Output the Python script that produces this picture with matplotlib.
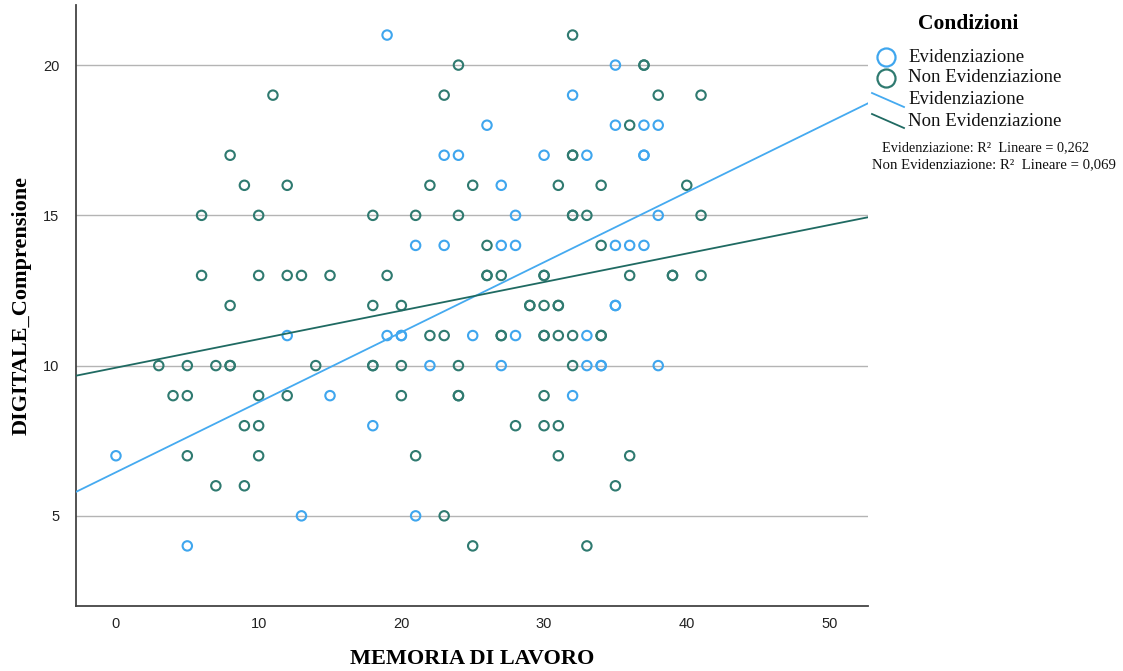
import matplotlib
matplotlib.use("Agg")
import matplotlib.pyplot as plt
from matplotlib.lines import Line2D
import numpy as np

# MEMORIA DI LAVORO (x) vs DIGITALE_Comprensione (y), per condition
evid_x = [19, 35, 32, 26, 35, 37, 38, 23, 24, 30, 33, 37, 37, 27, 28, 38,
          21, 23, 27, 28, 35, 36, 37, 35, 35, 12, 19, 20, 20, 25, 28, 33,
          22, 27, 33, 34, 34, 38, 15, 32, 18, 0, 13, 21, 5]
evid_y = [21, 20, 19, 18, 18, 18, 18, 17, 17, 17, 17, 17, 17, 16, 15, 15,
          14, 14, 14, 14, 14, 14, 14, 12, 12, 11, 11, 11, 11, 11, 11, 11,
          10, 10, 10, 10, 10, 10, 9, 9, 8, 7, 5, 5, 4]

nonev_x = [32, 24, 37, 37, 11, 23, 38, 41, 36, 8, 32, 32,
           9, 12, 22, 25, 31, 34, 40,
           6, 10, 18, 21, 24, 32, 32, 33, 41,
           26, 34,
           6, 10, 12, 13, 15, 19, 26, 26, 27, 30, 30, 36, 39, 39, 41,
           8, 18, 20, 29, 29, 30, 31, 31,
           22, 23, 27, 27, 30, 30, 31, 32, 34, 34,
           3, 5, 7, 8, 8, 14, 18, 18, 20, 24, 32,
           4, 5, 10, 12, 20, 24, 24, 30,
           9, 10, 28, 30, 31,
           5, 10, 21, 31, 36,
           7, 9, 35,
           23,
           25, 33]
nonev_y = [21, 20, 20, 20, 19, 19, 19, 19, 18, 17, 17, 17,
           16, 16, 16, 16, 16, 16, 16,
           15, 15, 15, 15, 15, 15, 15, 15, 15,
           14, 14,
           13, 13, 13, 13, 13, 13, 13, 13, 13, 13, 13, 13, 13, 13, 13,
           12, 12, 12, 12, 12, 12, 12, 12,
           11, 11, 11, 11, 11, 11, 11, 11, 11, 11,
           10, 10, 10, 10, 10, 10, 10, 10, 10, 10, 10,
           9, 9, 9, 9, 9, 9, 9, 9,
           8, 8, 8, 8, 8,
           7, 7, 7, 7, 7,
           6, 6, 6,
           5,
           4, 4]

# Linear fit lines (intercept, slope) and their R² values
evid_fit = (6.45, 0.233)
nonev_fit = (9.93, 0.095)
r2_labels = ["Evidenziazione: R\u00b2  Lineare = 0,262",
             "Non Evidenziazione: R\u00b2  Lineare = 0,069"]

x_ticks = [0, 10, 20, 30, 40, 50]
y_ticks = [5, 10, 15, 20]

BLUE = "#3fa6ee"
GREEN = "#2f7a70"
BLUE_LINE = "#45aaf0"
GREEN_LINE = "#1f6a62"
SERIF = ["Liberation Serif", "DejaVu Serif"]
NARROW = ["Liberation Sans Narrow", "Liberation Sans", "DejaVu Sans"]

fig = plt.figure(figsize=(11.23, 6.71), dpi=100)
ax = fig.add_axes([76 / 1123, 1 - 606 / 671, (868 - 76) / 1123, (606 - 5) / 671])

xlim = (-2.8, 52.7)
ylim = (2.0, 22.0)
ax.set_xlim(*xlim)
ax.set_ylim(*ylim)

for yv in y_ticks:
    ax.axhline(yv, color="#b4b4b4", lw=1.0, zorder=0)

ax.scatter(nonev_x, nonev_y, s=46, facecolors="none", edgecolors=GREEN,
           linewidths=1.5, zorder=3)
ax.scatter(evid_x, evid_y, s=46, facecolors="none", edgecolors=BLUE,
           linewidths=1.5, zorder=3)

xs = np.array(xlim)
ax.plot(xs, evid_fit[0] + evid_fit[1] * xs, color=BLUE_LINE, lw=1.3, zorder=4)
ax.plot(xs, nonev_fit[0] + nonev_fit[1] * xs, color=GREEN_LINE, lw=1.3, zorder=4)

for side in ("top", "right"):
    ax.spines[side].set_visible(False)
for side in ("left", "bottom"):
    ax.spines[side].set_color("#444444")
    ax.spines[side].set_linewidth(1.3)

ax.set_xticks(x_ticks)
ax.set_yticks(y_ticks)
ax.tick_params(length=0, labelsize=10.5, labelcolor="#222222")
ax.tick_params(axis="x", pad=8)
ax.tick_params(axis="y", pad=12)
for lab in ax.get_xticklabels() + ax.get_yticklabels():
    lab.set_family(NARROW)

ax.set_xlabel("MEMORIA DI LAVORO", family=SERIF, fontweight="bold",
              fontsize=16, labelpad=13)
ax.set_ylabel("DIGITALE_Comprensione", family=SERIF, fontweight="bold",
              fontsize=16, labelpad=8)

# Legend drawn in figure pixel coordinates
def fx(px):
    return px / 1123

def fy(py):
    return 1 - py / 671

fig.text(fx(968), fy(24), "Condizioni", family=SERIF, fontweight="bold",
         fontsize=15.5, ha="center", va="center")
entries = [("Evidenziazione", BLUE, "marker", 57),
           ("Non Evidenziazione", GREEN, "marker", 78),
           ("Evidenziazione", BLUE_LINE, "line", 100),
           ("Non Evidenziazione", GREEN_LINE, "line", 121)]
for text, col, kind, py in entries:
    if kind == "marker":
        fig.add_artist(Line2D([fx(886)], [fy(py)], marker="o", markersize=13,
                              markerfacecolor="none", markeredgecolor=col,
                              markeredgewidth=1.6, transform=fig.transFigure))
    else:
        fig.add_artist(Line2D([fx(872), fx(904)], [fy(py - 7), fy(py + 7)],
                              color=col, lw=1.3, transform=fig.transFigure))
    fig.text(fx(908), fy(py), text, family=SERIF, fontsize=13.5,
             ha="left", va="center", color="#111111")

fig.text(fx(985), fy(148), r2_labels[0], family=SERIF, fontsize=10.3,
         ha="center", va="center", color="#111111")
fig.text(fx(994), fy(165), r2_labels[1], family=SERIF, fontsize=10.6,
         ha="center", va="center", color="#111111")

fig.savefig("out.png", dpi=100)
